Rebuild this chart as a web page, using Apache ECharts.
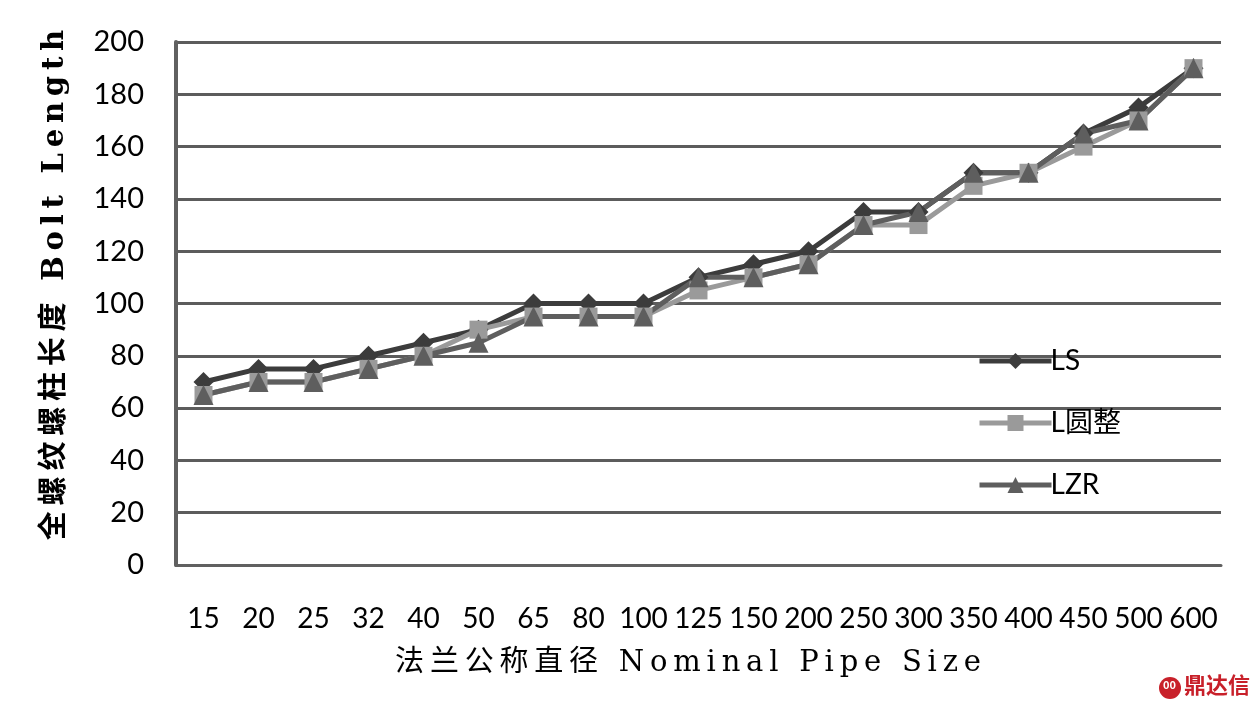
<!DOCTYPE html>
<html>
<head>
<meta charset="utf-8">
<script src="https://cdn.jsdelivr.net/npm/echarts@6/dist/echarts.min.js"></script>
<style>
html,body{margin:0;padding:0;background:#fff;}
#chart{width:1258px;height:710px;}
</style>
</head>
<body>
<div id="chart"></div>
<script>
const categories = ['15','20','25','32','40','50','65','80','100','125','150','200','250','300','350','400','450','500','600'];
const seriesNames = ['LS','L圆整','LZR'];
const valuesLS   = [70,75,75,80,85,90,100,100,100,110,115,120,135,135,150,150,165,175,190];
const valuesLRound = [65,70,70,75,80,90,95,95,95,105,110,115,130,130,145,150,160,170,190];
const valuesLZR  = [65,70,70,75,80,85,95,95,95,110,110,115,130,135,150,150,165,170,190];
const yTicks = [0,20,40,60,80,100,120,140,160,180,200];
const xTitle = '法兰公称直径 Nominal Pipe Size';
const yTitle = '全螺纹螺柱长度 Bolt Length';

const chart = echarts.init(document.getElementById('chart'));
const labelFont = 'Lato, "Noto Sans CJK SC", sans-serif';
const titleFont = '"DejaVu Serif", "Liberation Serif", "Noto Sans CJK SC", serif';

function spaced(s){ return s.split('').join('\u2009'); }
const colors = ['#3c3c3c','#9a9a9a','#5e5e5e'];

chart.setOption({
  animation:false,
  backgroundColor:'#ffffff',
  grid:{left:176, top:42, right:37, bottom:145, containLabel:false},
  legend:{
    orient:'vertical', left:972, top:342,
    itemWidth:72, itemHeight:20, itemGap:34,
    textStyle:{fontFamily:labelFont, fontSize:28, color:'#000', padding:[0,0,0,-6]},
    data:seriesNames.map((n,i)=>({name:n, lineStyle:{width:5, color:colors[i]}}))
  },
  xAxis:{
    type:'category', data:categories, boundaryGap:true,
    axisLine:{show:true, lineStyle:{color:'#606060', width:3}},
    axisTick:{show:false},
    axisLabel:{interval:0, margin:40, fontFamily:labelFont, fontSize:28, color:'#000'},
    splitLine:{show:false}
  },
  yAxis:{
    type:'value', min:yTicks[0], max:yTicks[yTicks.length-1], interval:20,
    axisLine:{show:true, lineStyle:{color:'#606060', width:4}},
    axisTick:{show:false},
    axisLabel:{margin:32, fontFamily:labelFont, fontSize:29, color:'#000'},
    splitLine:{lineStyle:{color:'#5c5c5c', width:3}}
  },
  series:[
    {name:seriesNames[0], type:'line', data:valuesLS, symbol:'diamond', symbolSize:20,
     lineStyle:{color:colors[0], width:5}, itemStyle:{color:colors[0]}},
    {name:seriesNames[1], type:'line', data:valuesLRound, symbol:'rect', symbolSize:18,
     lineStyle:{color:colors[1], width:5}, itemStyle:{color:colors[1]}},
    {name:seriesNames[2], type:'line', data:valuesLZR, symbol:'triangle', symbolSize:20,
     lineStyle:{color:colors[2], width:5}, itemStyle:{color:colors[2]}}
  ],
  graphic:[
    {type:'text', x:55, y:285, rotation:Math.PI/2,
     style:{text:spaced(yTitle), fill:'#000', align:'center', verticalAlign:'middle',
            font:'bold 29px ' + titleFont}},
    {type:'text', x:688, y:663,
     style:{text:spaced(xTitle), fill:'#000', align:'center', verticalAlign:'middle',
            font:'29px ' + titleFont}},
    {type:'circle', shape:{cx:1170, cy:688, r:11}, style:{fill:'#c8202a'}},
    {type:'text', left:1163, top:679, style:{text:'00', fill:'#fff', font:'bold 11px "Noto Sans CJK SC"'}},
    {type:'text', left:1184, top:674, style:{text:'鼎达信', fill:'#c8202a', font:'bold 22px "Noto Sans CJK SC"'}}
  ]
});
</script>
</body>
</html>
